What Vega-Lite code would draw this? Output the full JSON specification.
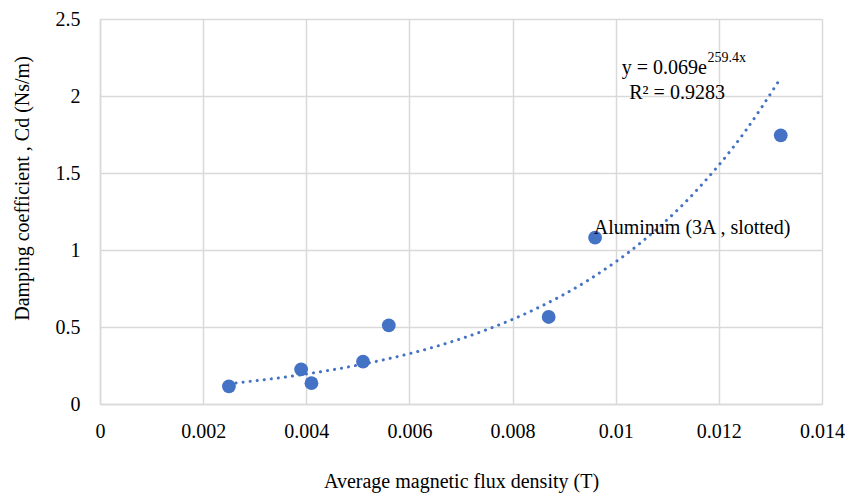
{
  "$schema": "https://vega.github.io/schema/vega-lite/v6.json",
  "width": 722,
  "height": 385,
  "autosize": "none",
  "padding": {"left": 100, "top": 19, "right": 23, "bottom": 94},
  "background": "white",
  "config": {"view": {"stroke": null}, "font": "serif"},
  "datasets": {
    "points": [
      {"b": 0.0025, "cd": 0.115},
      {"b": 0.0039, "cd": 0.225},
      {"b": 0.0041, "cd": 0.135},
      {"b": 0.0051, "cd": 0.275},
      {"b": 0.0056, "cd": 0.51},
      {"b": 0.0087, "cd": 0.565},
      {"b": 0.0096, "cd": 1.08},
      {"b": 0.0132, "cd": 1.745}
    ],
    "trend": [
      {"b": 0.0025, "cd": 0.132},
      {"b": 0.0035, "cd": 0.171},
      {"b": 0.0045, "cd": 0.222},
      {"b": 0.0055, "cd": 0.287},
      {"b": 0.0065, "cd": 0.372},
      {"b": 0.0075, "cd": 0.483},
      {"b": 0.0085, "cd": 0.626},
      {"b": 0.0095, "cd": 0.811},
      {"b": 0.0105, "cd": 1.051},
      {"b": 0.0115, "cd": 1.363},
      {"b": 0.0125, "cd": 1.766},
      {"b": 0.0132, "cd": 2.118}
    ],
    "one": [{}]
  },
  "layer": [
    {
      "data": {"name": "points"},
      "mark": {"type": "circle", "size": 190, "color": "#4472C4", "opacity": 1},
      "encoding": {
        "x": {"field": "b", "type": "quantitative",
          "scale": {"domain": [0, 0.014], "nice": false, "zero": false},
          "axis": {"values": [0, 0.002, 0.004, 0.006, 0.008, 0.01, 0.012, 0.014], "format": "~g",
            "title": "Average magnetic flux density (T)", "titleFont": "Times New Roman", "titleFontSize": 20, "titleFontWeight": "normal", "titleColor": "#000", "titlePadding": 30,
            "labelFont": "Times New Roman", "labelFontSize": 20, "labelColor": "#000", "labelPadding": 17, "ticks": false,
            "domainColor": "#D9D9D9", "domainWidth": 1.5, "gridColor": "#D9D9D9", "gridWidth": 1.5, "labelFlush": false}},
        "y": {"field": "cd", "type": "quantitative",
          "scale": {"domain": [0, 2.5], "nice": false},
          "axis": {"values": [0, 0.5, 1, 1.5, 2, 2.5], "format": "~g",
            "title": "Damping coefficient , Cd (Ns/m)", "titleFont": "serif", "titleFontSize": 20, "titleFontWeight": "normal", "titleColor": "#000",
            "titleX": -68, "titleY": 169, "titleAlign": "center",
            "labelFont": "serif", "labelFontSize": 20, "labelColor": "#000", "labelPadding": 20, "ticks": false,
            "domainColor": "#D9D9D9", "domainWidth": 1.5, "gridColor": "#D9D9D9", "gridWidth": 1.5}}
      }
    },
    {
      "data": {"name": "trend"},
      "mark": {"type": "line", "color": "#4472C4", "strokeWidth": 3, "strokeDash": [0.1, 7], "strokeCap": "round", "interpolate": "monotone"},
      "encoding": {
        "x": {"field": "b", "type": "quantitative"},
        "y": {"field": "cd", "type": "quantitative"}
      }
    },
    {
      "data": {"name": "one"},
      "mark": {"type": "text", "font": "Liberation Serif", "text": "Aluminum (3A , slotted)", "fontSize": 20, "align": "center", "baseline": "middle", "color": "#000"},
      "encoding": {"x": {"datum": 0.01148}, "y": {"datum": 1.143}}
    },
    {
      "data": {"name": "one"},
      "mark": {"type": "text", "font": "Liberation Serif", "text": "y = 0.069e", "fontSize": 20, "align": "right", "baseline": "middle", "color": "#000"},
      "encoding": {"x": {"datum": 0.01177}, "y": {"datum": 2.18}}
    },
    {
      "data": {"name": "one"},
      "mark": {"type": "text", "font": "Liberation Serif", "text": "259.4x", "fontSize": 14, "align": "left", "baseline": "middle", "color": "#000"},
      "encoding": {"x": {"datum": 0.01178}, "y": {"datum": 2.245}}
    },
    {
      "data": {"name": "one"},
      "mark": {"type": "text", "font": "Liberation Serif", "text": "R² = 0.9283", "fontSize": 20, "align": "center", "baseline": "middle", "color": "#000"},
      "encoding": {"x": {"datum": 0.01119}, "y": {"datum": 2.02}}
    }
  ]
}
